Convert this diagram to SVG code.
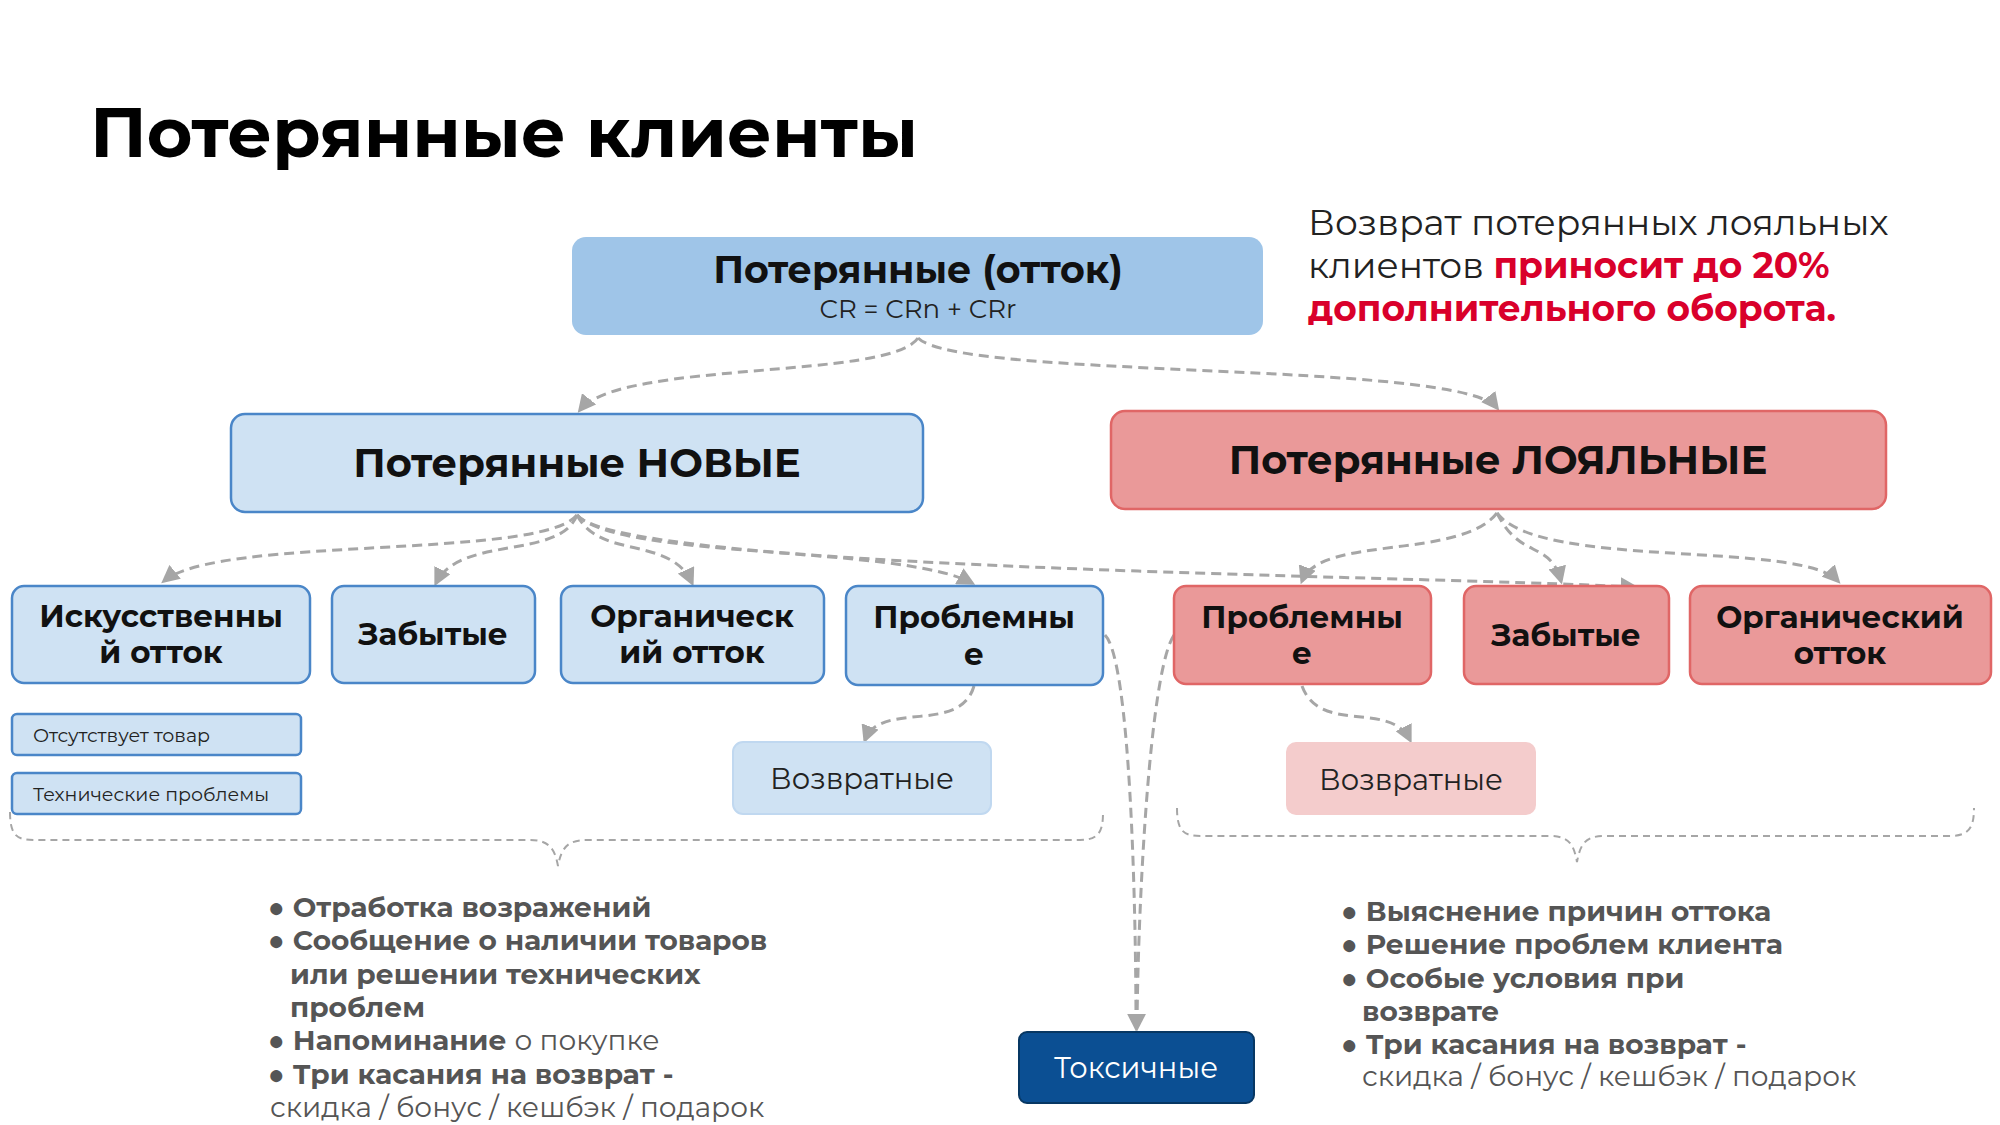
<svg xmlns="http://www.w3.org/2000/svg" width="2000" height="1125" viewBox="0 0 2000 1125">
<defs>
<marker id="ar" viewBox="0 0 10 10" refX="8" refY="5" markerWidth="6" markerHeight="6" orient="auto"><path d="M0,0 L10,5 L0,10 z" fill="#a6a6a6"/></marker>
<style>
text{font-family:Montserrat,"Noto Sans","Liberation Sans",sans-serif}
.c{fill:none;stroke:#a6a6a6;stroke-width:3;stroke-dasharray:10 6;marker-end:url(#ar)}
.br{fill:none;stroke:#a6a6a6;stroke-width:2;stroke-dasharray:7 5}
.b{fill:#cfe2f3;stroke:#4a86c8;stroke-width:2.5}
.r{fill:#ea9999;stroke:#e06666;stroke-width:2.5}
.t{font-weight:bold;fill:#111;text-anchor:middle}
.l{font-weight:bold;fill:#555;font-size:28px}
.n{font-weight:normal}
</style>
</defs>
<rect width="2000" height="1125" fill="#fff"/>
<text x="90" y="157" font-size="70" font-weight="bold" fill="#000">Потерянные клиенты</text>
<text font-size="36" fill="#222"><tspan x="1308" y="235">Возврат потерянных лояльных</tspan><tspan x="1308" y="278">клиентов <tspan font-weight="bold" fill="#d9002b">приносит до 20%</tspan></tspan><tspan x="1308" y="321" font-weight="bold" fill="#d9002b">дополнительного оборота.</tspan></text>
<g id="connectors">
<path class="c" d="M918,338 C890,380 620,360 580,410"/>
<path class="c" d="M918,338 C960,380 1460,360 1497,408"/>
<path class="c" d="M577,515 C540,560 220,535 164,581"/>
<path class="c" d="M577,515 C560,560 460,535 436,583"/>
<path class="c" d="M577,515 C600,560 670,535 692,583"/>
<path class="c" d="M577,515 C620,560 900,545 972,583"/>
<path class="c" d="M577,515 C620,570 1400,575 1635,587"/>
<path class="c" d="M1497,513 C1460,560 1320,535 1302,581"/>
<path class="c" d="M1497,513 C1520,560 1550,540 1561,581"/>
<path class="c" d="M1497,513 C1540,570 1800,540 1838,581"/>
<path class="c" d="M974,686 C960,735 880,700 865,740"/>
<path class="c" d="M1302,686 C1320,735 1390,700 1410,740"/>
<path class="c" d="M1105,635 C1130,660 1136,900 1136,1028"/>
<path class="c" d="M1174,635 C1150,670 1138,900 1137,1028"/>
</g>
<g id="top"><rect x="572" y="237" width="691" height="98" rx="14" fill="#9fc5e8"/><text class="t" x="918" y="283" font-size="38">Потерянные (отток)</text><text x="918" y="318" font-size="26" text-anchor="middle" fill="#222">CR = CRn + CRr</text></g>
<g id="new"><rect class="b" x="231" y="414" width="692" height="98" rx="14"/><text class="t" x="577" y="477" font-size="40">Потерянные НОВЫЕ</text></g>
<g id="loyal"><rect class="r" x="1111" y="411" width="775" height="98" rx="14"/><text class="t" x="1498" y="474" font-size="40">Потерянные ЛОЯЛЬНЫЕ</text></g>
<g id="n1"><rect class="b" x="12" y="586" width="298" height="97" rx="12"/><text class="t" x="161" y="627" font-size="31">Искусственны</text><text class="t" x="161" y="663" font-size="31">й отток</text></g>
<g id="n2"><rect class="b" x="332" y="586" width="203" height="97" rx="12"/><text class="t" x="433" y="645" font-size="31">Забытые</text></g>
<g id="n3"><rect class="b" x="561" y="586" width="263" height="97" rx="12"/><text class="t" x="692" y="627" font-size="31">Органическ</text><text class="t" x="692" y="663" font-size="31">ий отток</text></g>
<g id="n4"><rect class="b" x="846" y="586" width="257" height="99" rx="12"/><text class="t" x="974" y="628" font-size="31">Проблемны</text><text class="t" x="974" y="665" font-size="31">е</text></g>
<g id="r1"><rect class="r" x="1174" y="586" width="257" height="98" rx="12"/><text class="t" x="1302" y="628" font-size="31">Проблемны</text><text class="t" x="1302" y="664" font-size="31">е</text></g>
<g id="r2"><rect class="r" x="1464" y="586" width="205" height="98" rx="12"/><text class="t" x="1566" y="646" font-size="31">Забытые</text></g>
<g id="r3"><rect class="r" x="1690" y="586" width="301" height="98" rx="12"/><text class="t" x="1840" y="628" font-size="31">Органический</text><text class="t" x="1840" y="664" font-size="31">отток</text></g>
<g id="s1"><rect class="b" x="12" y="714" width="289" height="41" rx="5"/><text x="33" y="742" font-size="19" fill="#222">Отсутствует товар</text></g>
<g id="s2"><rect class="b" x="12" y="773" width="289" height="41" rx="5"/><text x="33" y="801" font-size="19" fill="#222">Технические проблемы</text></g>
<g id="v1"><rect x="733" y="742" width="258" height="72" rx="10" fill="#cfe2f3" stroke="#c0d8f0" stroke-width="2"/><text x="862" y="789" font-size="29" text-anchor="middle" fill="#222">Возвратные</text></g>
<g id="v2"><rect x="1286" y="742" width="250" height="73" rx="10" fill="#f4cccc"/><text x="1411" y="790" font-size="29" text-anchor="middle" fill="#222">Возвратные</text></g>
<g id="tox"><rect x="1019" y="1032" width="235" height="71" rx="8" fill="#0b4f93" stroke="#073763" stroke-width="2"/><text x="1136" y="1078" font-size="29" text-anchor="middle" fill="#fff">Токсичные</text></g>
<path class="br" d="M10,812 C10,840 20,840 40,840 L530,840 C550,840 555,850 558,866 C561,850 566,840 586,840 L1080,840 C1100,840 1103,830 1103,812"/>
<path class="br" d="M1177,808 C1177,836 1187,836 1207,836 L1550,836 C1570,836 1574,846 1577,862 C1580,846 1584,836 1604,836 L1950,836 C1970,836 1974,826 1974,808"/>
<g id="leftlist" class="l">
<text x="268" y="917">●  Отработка возражений</text>
<text x="268" y="950">●  Сообщение о наличии товаров</text>
<text x="290" y="984">или решении технических</text>
<text x="290" y="1017">проблем</text>
<text x="268" y="1050">●  Напоминание <tspan class="n">о покупке</tspan></text>
<text x="268" y="1084">●  Три касания на возврат -</text>
<text x="270" y="1117" class="n">скидка / бонус / кешбэк / подарок</text>
</g>
<g id="rightlist" class="l">
<text x="1341" y="921">●  Выяснение причин оттока</text>
<text x="1341" y="954">●  Решение проблем клиента</text>
<text x="1341" y="988">●  Особые условия при</text>
<text x="1362" y="1021">возврате</text>
<text x="1341" y="1054">●  Три касания на возврат -</text>
<text x="1362" y="1086" class="n">скидка / бонус / кешбэк / подарок</text>
</g>
</svg>
